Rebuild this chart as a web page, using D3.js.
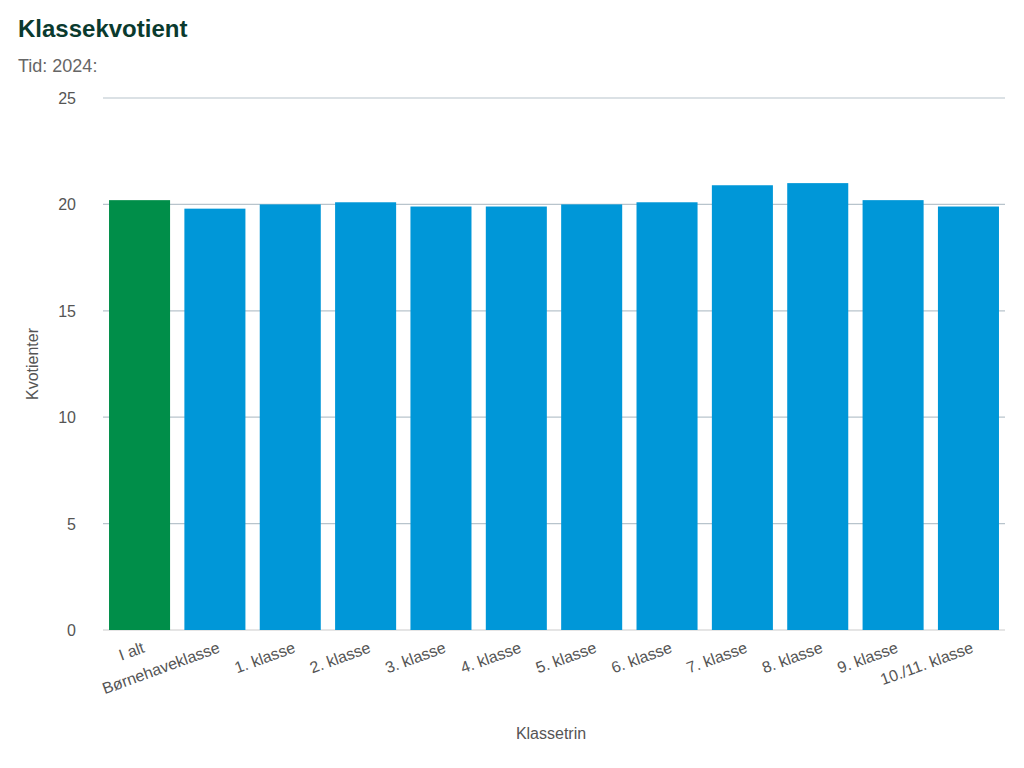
<!DOCTYPE html>
<html><head><meta charset="utf-8">
<script src="https://cdn.jsdelivr.net/npm/d3@7"></script>
<style>body{margin:0;background:#fff;font-family:"Liberation Sans",Arial,sans-serif}</style>
</head><body><svg id="chart" width="1024" height="768"></svg>
<script>
var categories = ["I alt", "Børnehaveklasse", "1. klasse", "2. klasse", "3. klasse", "4. klasse", "5. klasse", "6. klasse", "7. klasse", "8. klasse", "9. klasse", "10./11. klasse"];
var values = [20.2, 19.8, 20.0, 20.1, 19.9, 19.9, 20.0, 20.1, 20.9, 21.0, 20.2, 19.9];
var yTicks = [0, 5, 10, 15, 20, 25];

var svg = d3.select("#chart");
var margin = {top: 98, right: 19, bottom: 138, left: 103};
var width = 1024 - margin.left - margin.right;
var height = 768 - margin.top - margin.bottom;

svg.append("text").attr("x", 18).attr("y", 37).attr("fill", "#0a3a2e")
    .attr("font-size", 24).attr("font-weight", "bold").text("Klassekvotient");
svg.append("text").attr("x", 18).attr("y", 72).attr("fill", "#666")
    .attr("font-size", 18).text("Tid: 2024:");

var g = svg.append("g").attr("transform", "translate(" + margin.left + "," + margin.top + ")");
var x = d3.scaleBand().domain(categories).range([0, width]).paddingInner(0.19).paddingOuter(0.08);
var y = d3.scaleLinear().domain([0, 25]).range([height, 0]);

//Grid lines and y labels
g.selectAll(".grid").data(yTicks).enter().append("line")
    .attr("x1", 0).attr("x2", width)
    .attr("y1", function(d) { return y(d); }).attr("y2", function(d) { return y(d); })
    .attr("stroke", function(d) { return d === 0 ? "#ccc" : "#b8c4cc"; }).attr("stroke-width", 1.2);
g.selectAll(".ylab").data(yTicks).enter().append("text")
    .attr("x", -27).attr("y", function(d) { return y(d) + 6; })
    .attr("text-anchor", "end").attr("font-size", 16).attr("fill", "#555")
    .text(function(d) { return d; });

//Bars
g.selectAll(".bar").data(values).enter().append("rect")
    .attr("x", function(d, i) { return x(categories[i]); })
    .attr("y", function(d) { return y(d); })
    .attr("width", x.bandwidth())
    .attr("height", function(d) { return height - y(d); })
    .attr("fill", function(d, i) { return i === 0 ? "#008e49" : "#0097d8"; });

//X labels rotated
g.selectAll(".xlab").data(categories).enter().append("text")
    .attr("transform", function(d) {
        return "translate(" + (x(d) + x.bandwidth() / 2 + 6) + "," + (height + 22) + ") rotate(-20)";
    })
    .attr("text-anchor", "end").attr("font-size", 16).attr("fill", "#555")
    .text(function(d) { return d; });

svg.append("text").attr("x", margin.left + width / 2 - 3).attr("y", 739)
    .attr("text-anchor", "middle").attr("font-size", 16).attr("fill", "#555").text("Klassetrin");
svg.append("text").attr("transform", "translate(38," + (margin.top + height / 2) + ") rotate(-90)")
    .attr("text-anchor", "middle").attr("font-size", 16).attr("fill", "#555").text("Kvotienter");
</script></body></html>
